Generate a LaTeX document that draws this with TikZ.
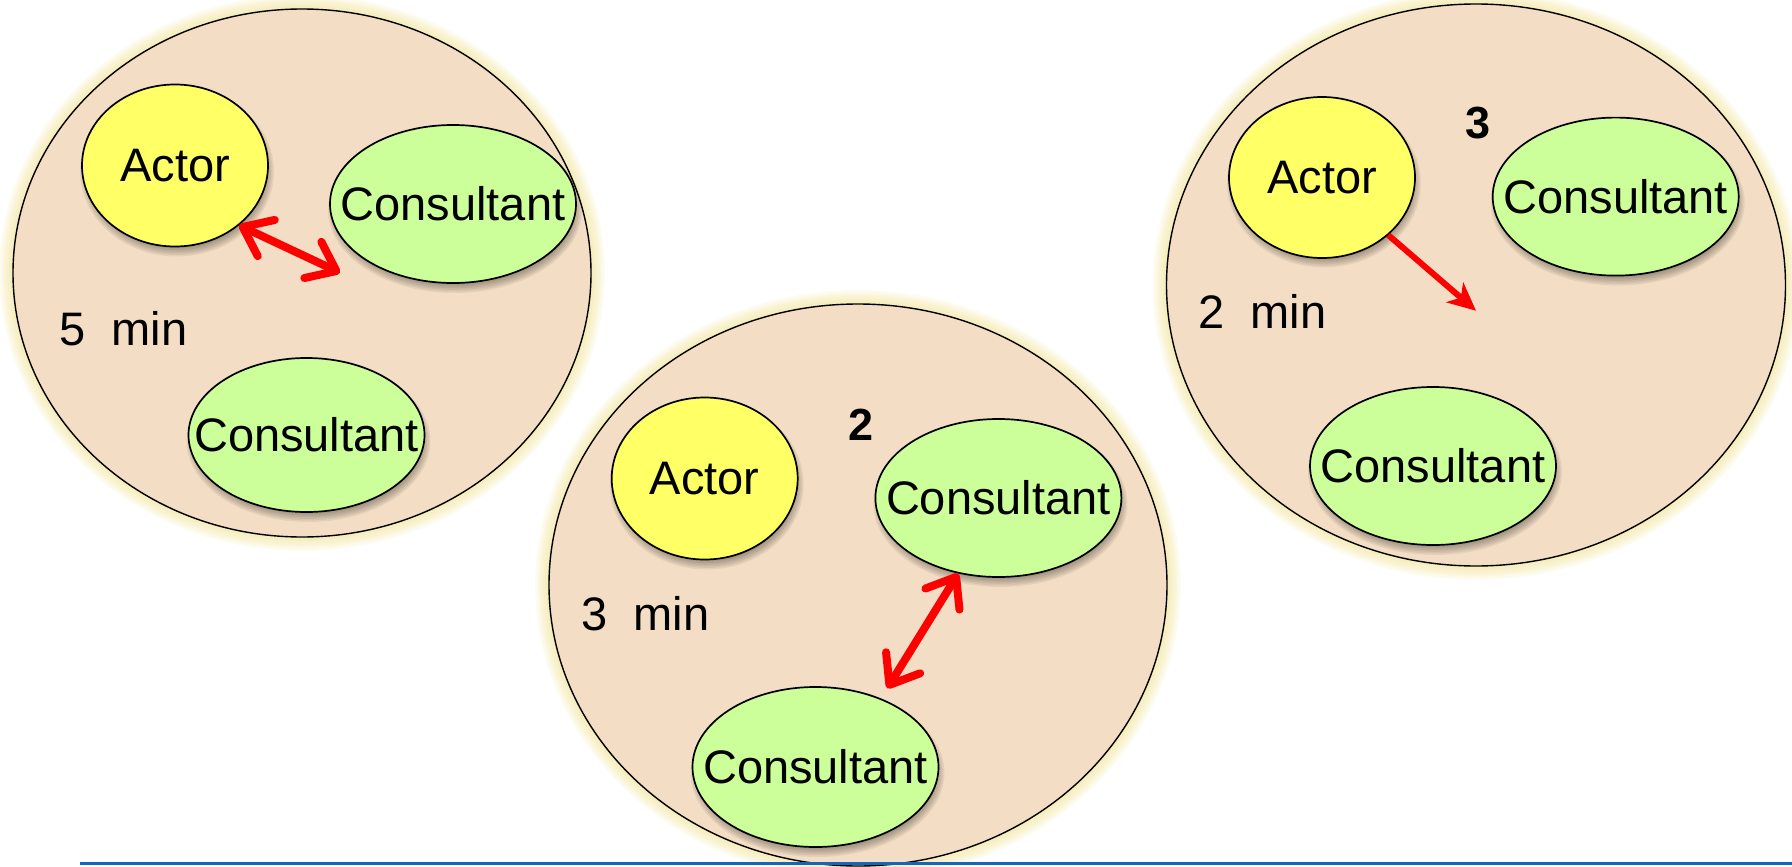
\documentclass[tikz,border=0pt]{standalone}
\usepackage{fontspec}
\setmainfont{Liberation Sans}
\usetikzlibrary{shapes.geometric,arrows.meta}
\definecolor{peach}{RGB}{243,221,196}
\definecolor{glowc}{RGB}{238,222,130}
\definecolor{actorfill}{RGB}{255,255,102}
\definecolor{consfill}{RGB}{204,255,153}
\definecolor{rulec}{RGB}{21,101,192}
\newcommand\myglow[4]{%
  \foreach \k in {1,...,7}{\fill[glowc,opacity=0.10] (#1,#2) ellipse [x radius={#3pt+2pt*\k}, y radius={#4pt+2pt*\k}];}}
\newcommand\myshadow[4]{%
  \foreach \k in {0,...,5}{\fill[black,opacity=0.06] ({#1+2},{#2+6}) ellipse [x radius={#3pt-4pt+1.6pt*\k}, y radius={#4pt-4pt+1.6pt*\k}];}}
\begin{document}
\begin{tikzpicture}[x=1pt,y=-1pt,
  lbl/.style={inner sep=0pt, font=\fontsize{47}{56}\selectfont},
  group/.style={ellipse, draw=black, line width=1.4pt, fill=peach, inner sep=0pt},
  actor/.style={ellipse, draw=black, line width=1.7pt, fill=actorfill, minimum width=186pt, minimum height=162pt, inner sep=0pt, label={[lbl]center:Actor}},
  cons/.style={ellipse, draw=black, line width=1.7pt, fill=consfill, minimum width=246pt, minimum height=158pt, inner sep=0pt, label={[lbl]center:Consultant}},
  mins/.style={anchor=base west, inner sep=0pt, font=\fontsize{47}{56}\selectfont},
  num/.style={inner sep=0pt, font=\fontsize{45}{54}\selectfont\bfseries},
  dbl/.style={draw=red, line width=8pt, line cap=round, {Straight Barb[round,length=26pt,width=40pt]}-{Straight Barb[round,length=26pt,width=40pt]}},
  sgl/.style={draw=red, line width=6pt, -{Stealth[length=28pt,width=26pt,inset=8pt]}}]
\useasboundingbox (0,0) rectangle (1792,867);
% group 1
\myglow{302}{273}{289}{264}
\node[group, minimum width=578pt, minimum height=528pt] (g1) at (302,273) {};
\myshadow{175}{165.5}{93}{81}
\node[actor] (a1) at (175,165.5) {};
\myshadow{453}{204}{123}{79}
\node[cons] (c11) at (453,204) {};
\myshadow{306.5}{435}{118}{77}
\node[cons, minimum width=236pt, minimum height=154pt] (c12) at (306.5,435) {};
\node[mins] (t1) at (59,345.5) {5~~min};
\coordinate (e1) at (340,272.7);
\draw[dbl] (a1.-43) -- (e1);
% group 2
\myglow{858}{585}{309}{281}
\node[group, minimum width=618pt, minimum height=562pt] (g2) at (858,585) {};
\myshadow{704.7}{478.5}{93}{81}
\node[actor] (a2) at (704.7,478.5) {};
\node[num] (n2) at (861,425) {2};
\myshadow{998.4}{498}{123}{79}
\node[cons] (c21) at (998.4,498) {};
\myshadow{815.5}{767}{123}{80}
\node[cons, minimum height=160pt] (c22) at (815.5,767) {};
\node[mins] (t2) at (581,630) {3~~min};
\coordinate (e2) at (887.3,688.3);
\draw[dbl] (c21.242) -- (e2);
% group 3
\myglow{1476}{285}{309.5}{281}
\node[group, minimum width=619pt, minimum height=562pt] (g3) at (1476,285) {};
\myshadow{1322}{177.5}{93}{80}
\node[actor, minimum height=161pt] (a3) at (1322,177.5) {};
\node[num] (n3) at (1478.3,123.5) {3};
\myshadow{1615.7}{196.6}{123}{79}
\node[cons] (c31) at (1615.7,196.6) {};
\myshadow{1433}{466}{123}{79}
\node[cons] (c32) at (1433,466) {};
\node[mins] (t3) at (1198.3,328.5) {2~~min};
\coordinate (e3) at (1476,310.7);
\draw[sgl] (a3.-41) -- (e3);
% rule
\draw[rulec, line width=3pt] (80,863) -- (1792,863);
\end{tikzpicture}
\end{document}
